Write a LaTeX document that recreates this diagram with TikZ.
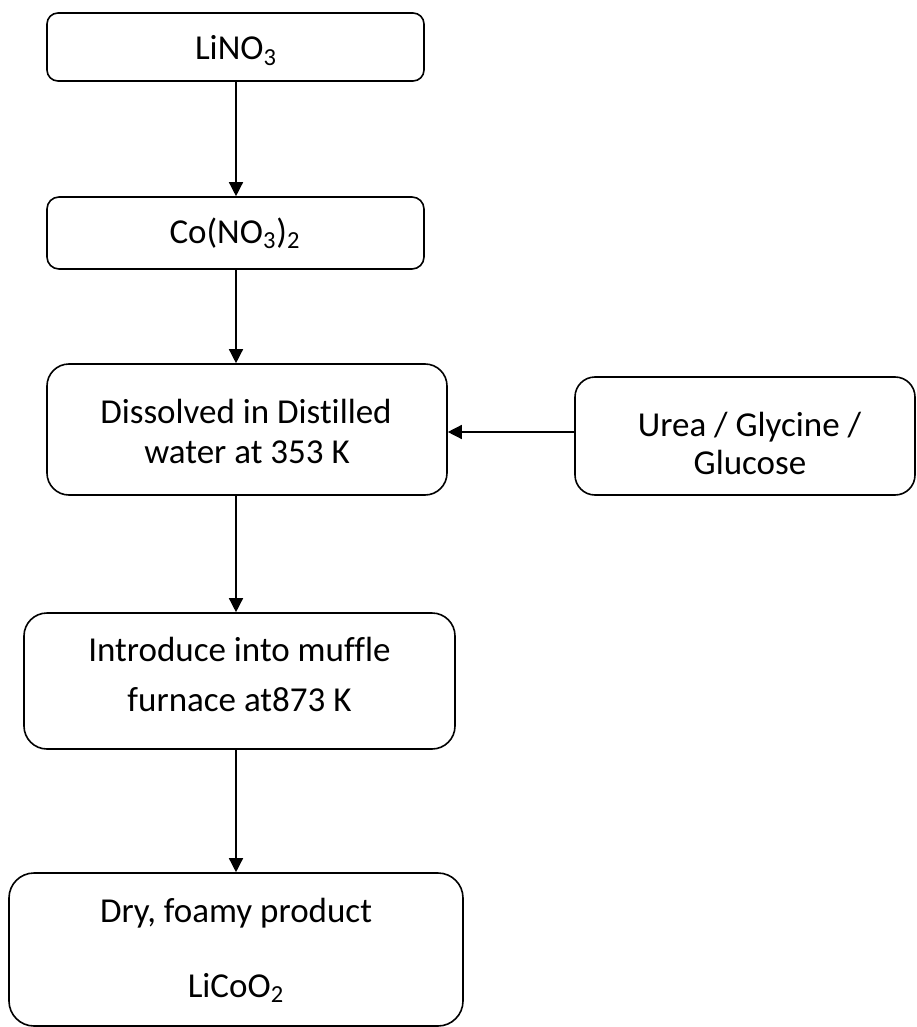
\documentclass[tikz,border=0pt]{standalone}
\usepackage{fontspec}
\setmainfont{Carlito}[Ligatures=NoCommon]
\usetikzlibrary{arrows.meta}
\begin{document}
\begin{tikzpicture}[x=0.5pt,y=-0.5pt,
  box/.style n args={3}{draw, line width=0.8pt, rounded corners=#3,
    minimum width=#1, minimum height=#2, inner sep=0pt},
  txt/.style={inner sep=0pt, anchor=base, font=\fontsize{17.5}{21}\selectfont},
  arr/.style={line width=0.7pt, -{Triangle[length=7pt,width=7pt]}}]
\useasboundingbox (0,0) rectangle (916,1027);
% boxes
\node[box={188.5pt}{34pt}{5.5pt}] (b1) at (235.5,47) {};
\node[box={188.5pt}{36pt}{6pt}] (b2) at (235.5,233) {};
\node[box={200pt}{65.5pt}{11pt}] (b3) at (247,429.5) {};
\node[box={170pt}{59pt}{10pt}] (u) at (745,436) {};
\node[box={215.5pt}{68pt}{11.5pt}] (b4) at (239.5,681) {};
\node[box={227pt}{76.5pt}{12.5pt}] (b5) at (236,949.5) {};
% texts
\node[txt] (t1) at (236,60) {LiNO\textsubscript{3}};
\node[txt] (t2) at (235,243) {Co(NO\textsubscript{3})\textsubscript{2}};
\node[txt] (t3a) at (246,423) {Dissolved in Distilled};
\node[txt] (t3b) at (247,463) {water at 353 K};
\node[txt] (tua) at (749.5,436) {Urea / Glycine /};
\node[txt] (tub) at (750,474) {Glucose};
\node[txt] (t4a) at (239.5,661) {Introduce into muffle};
\node[txt] (t4b) at (239.5,711) {furnace at873 K};
\node[txt] (t5a) at (236,922) {Dry, foamy product};
\node[txt] (t5b) at (236,997) {LiCoO\textsubscript{2}};
% connectors
\coordinate (ax) at (236,0);
\coordinate (hy) at (0,432);
\draw[arr] (b1.south -| ax) -- (b2.north -| ax);
\draw[arr] (b2.south -| ax) -- (b3.north -| ax);
\draw[arr] (b3.south -| ax) -- (b4.north -| ax);
\draw[arr] (b4.south -| ax) -- (b5.north -| ax);
\draw[arr] (u.west |- hy) -- (b3.east |- hy);
\end{tikzpicture}
\end{document}
